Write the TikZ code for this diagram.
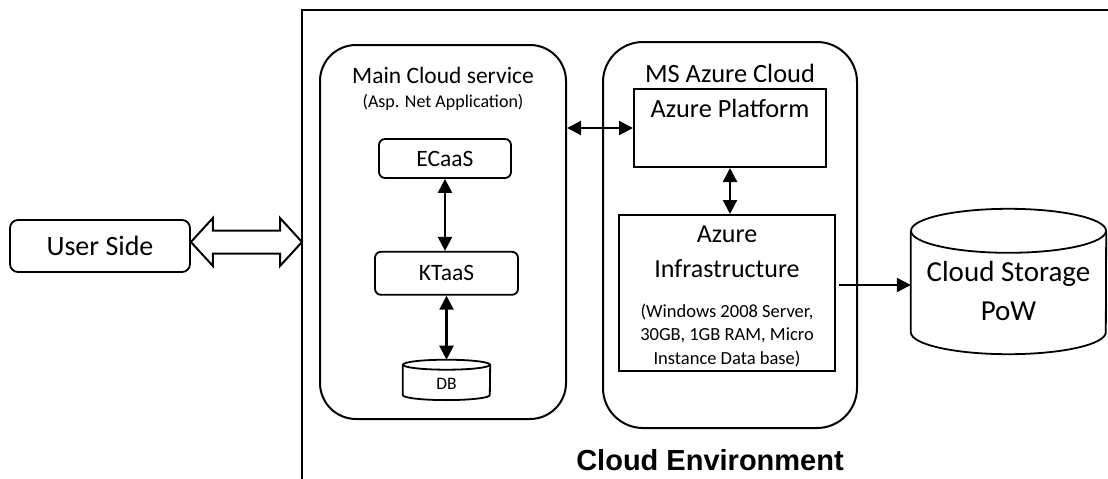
\documentclass[tikz,border=0pt]{standalone}
\usepackage{fontspec}
\setmainfont{Carlito}
\newfontfamily\envfont{Liberation Sans}
\usepackage{tikz}
\usetikzlibrary{shapes.geometric, arrows.meta, positioning, calc}
\newcommand{\fsz}[2]{\fontsize{#1}{#2}\selectfont}
\tikzset{
  outerbox/.style={rectangle, draw=black, line width=2pt,
    rounded corners=38pt, inner sep=0pt},
  svcbox/.style={rectangle, draw=black, line width=1.8pt,
    rounded corners=6pt, inner sep=0pt},
  platbox/.style={rectangle, draw=black, line width=2pt, inner sep=0pt},
  dbspace/.style={rectangle, inner sep=0pt},
  dbline/.style={line width=1.8pt, color=black},
  hollow/.style={draw=black, fill=white, line width=2pt, line join=miter},
  frame/.style={line width=2.2pt, color=black},
  arrow/.style={-{Triangle[length=14pt,width=14pt]}, line width=2.2pt},
  biarrow/.style={{Triangle[length=14pt,width=14pt]}-{Triangle[length=14pt,width=14pt]}, line width=2.2pt}
}

\begin{document}
\begin{tikzpicture}[x=1pt, y=-1pt]
  \useasboundingbox (0,0) rectangle (1108,479);

  % Cloud environment frame
  \coordinate (envtop) at (302,10);
  \coordinate (envin) at (302,242);
  \draw[frame] (302,483) -- (envtop) -- (1112,10);
  \node[font=\envfont\bfseries\fsz{29}{34}, anchor=base] (envlabel) at (710,470) {Cloud Environment};

  % User side and its link into the cloud
  \node[svcbox, rounded corners=8pt, minimum width=180pt, minimum height=52pt, font=\fsz{28}{34}] (user) at (100,246) {User Side};
  \draw[hollow] (user.east |- envin) -- ++(22,-24) -- ++(0,12.5) -- ($(envin)+(-22,-11.5)$) -- ++(0,-12.5)
    -- (envin) -- ++(-22,24) -- ++(0,-12.5) -- ($(user.east |- envin)+(22,11.5)$) -- ++(0,12.5) -- cycle;

  % Main cloud service
  \node[outerbox, minimum width=246pt, minimum height=374pt, rounded corners=36pt] (main) at (443,232) {};
  \node[font=\fsz{23.5}{28}, anchor=base] (maintitle) at (443,83) {Main Cloud service};
  \node[font=\fsz{18}{22}, anchor=base] (mainsub) at (443,107) {(Asp. Net Application)};
  \node[svcbox, minimum width=132pt, minimum height=39pt, font=\fsz{23.5}{28}] (ecaas) at (445,158.5) {ECaaS};
  \node[svcbox, minimum width=143pt, minimum height=43pt, font=\fsz{23.5}{28}, below=72pt of ecaas.south, anchor=north, xshift=1.5pt] (ktaas) {KTaaS};
  \node[dbspace, minimum width=87pt, minimum height=40pt, below=64pt of ktaas] (db) {};
  \draw[dbline] ($(db.north west)+(0,5)$) -- ($(db.south west)+(0,-5)$)
    arc[start angle=180, end angle=0, x radius=43.5, y radius=5] -- ($(db.north east)+(0,5)$);
  \draw[dbline] ($(db.north)+(0,5)$) ellipse [x radius=43.5, y radius=5];
  \node[font=\fsz{17.5}{21}] (dbtext) at ([yshift=-4pt]db.center) {DB};

  % MS Azure cloud
  \node[outerbox, minimum width=254pt, minimum height=386pt, rounded corners=40pt] (azure) at (730,235) {};
  \node[font=\fsz{26.4}{32}, anchor=base] (azuretitle) at (730,82) {MS Azure Cloud};
  \node[platbox, minimum width=192pt, minimum height=78pt] (platform) at (730,128) {};
  \node[font=\fsz{26.3}{32}, anchor=base] (platformtitle) at (730,117) {Azure Platform};
  \node[platbox, minimum width=216pt, minimum height=156pt] (infra) at (727,293) {};
  \node[font=\fsz{26}{35}, align=center] (infratitle) at (727,252) {Azure\\Infrastructure};
  \node[font=\fsz{18.5}{23.5}, align=center] (infranote) at (727,335.5) {(Windows 2008 Server,\\30GB, 1GB RAM, Micro\\Instance Data base)};

  % Storage
  \node[dbspace, minimum width=195pt, minimum height=145pt] (storage) at (1008.5,281.5) {};
  \draw[dbline] ($(storage.north west)+(0,22)$) -- ($(storage.south west)+(0,-22)$)
    arc[start angle=180, end angle=0, x radius=97.5, y radius=22] -- ($(storage.north east)+(0,22)$);
  \draw[dbline] ($(storage.north)+(0,22)$) ellipse [x radius=97.5, y radius=22];
  \node[font=\fsz{29}{39}, align=center] (storagetext) at (1008.5,291.5) {Cloud Storage\\PoW};

  % Connections
  \draw[biarrow] (ecaas.south) -- (ecaas.south |- ktaas.north);
  \draw[biarrow] (ktaas.south) -- (db.north);
  \draw[biarrow] (main.east |- platform.west) -- (platform.west);
  \draw[biarrow] (platform.south) -- (platform.south |- infra.north);
  \coordinate (storein) at ([yshift=8pt]infra.east);
  \draw[arrow] ([xshift=3pt]storein) -- (storein -| storage.west);
\end{tikzpicture}
\end{document}
